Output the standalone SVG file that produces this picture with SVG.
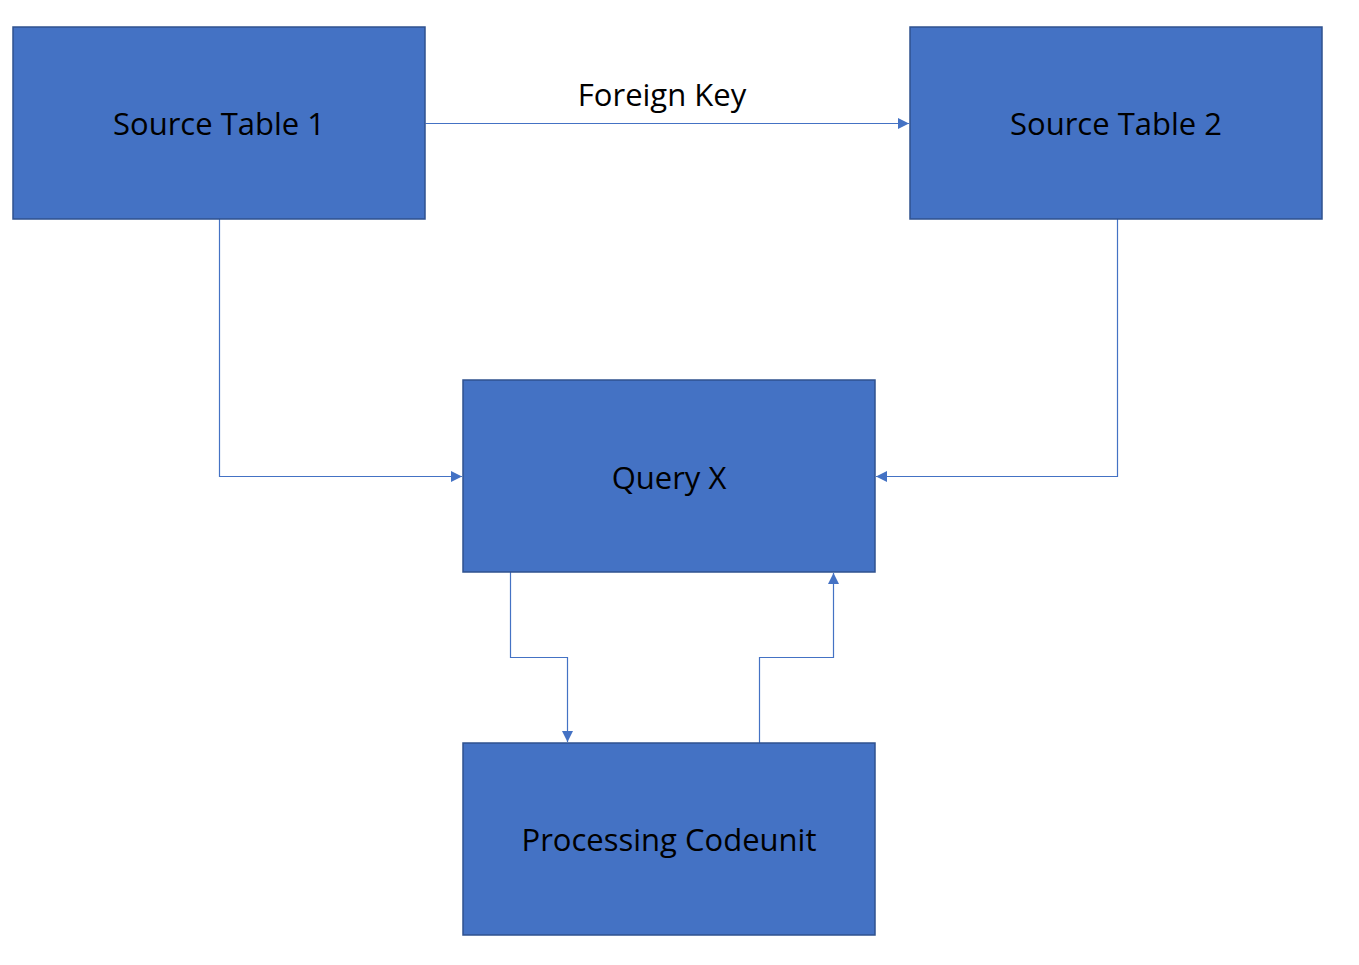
<svg xmlns="http://www.w3.org/2000/svg" width="1359" height="965" viewBox="0 0 1359 965">
<style>
.box{fill:#4472C4;stroke:#2F528F;stroke-width:1.5}
.lbl{font-family:"Open Sans","Noto Sans",sans-serif;font-size:31px;fill:#000;text-anchor:middle}
.conn{fill:none;stroke:#4472C4;stroke-width:1.2}
</style>
<defs>
<marker id="arr" markerWidth="11" markerHeight="11" refX="11" refY="5.5" orient="auto" markerUnits="userSpaceOnUse">
<path d="M0,0 L11,5.5 L0,11 Z" fill="#4472C4"/>
</marker>
</defs>
<rect width="1359" height="965" fill="#fff"/>
<g id="connectors">
<path class="conn" d="M425.5,123.5 H909" marker-end="url(#arr)"/>
<text class="lbl" x="662" y="106">Foreign Key</text>
<path class="conn" d="M219.5,219 V476.5 H462" marker-end="url(#arr)"/>
<path class="conn" d="M1117.5,219 V476.5 H876" marker-end="url(#arr)"/>
<path class="conn" d="M510.5,572 V657.5 H567.5 V742" marker-end="url(#arr)"/>
<path class="conn" d="M759.5,743 V657.5 H833.5 V573" marker-end="url(#arr)"/>
</g>
<g id="source-table-1">
<rect class="box" x="13" y="27" width="412" height="192"/>
<text class="lbl" x="219" y="135">Source Table 1</text>
</g>
<g id="source-table-2">
<rect class="box" x="910" y="27" width="412" height="192"/>
<text class="lbl" x="1116" y="135">Source Table 2</text>
</g>
<g id="query-x">
<rect class="box" x="463" y="380" width="412" height="192"/>
<text class="lbl" x="669" y="489">Query X</text>
</g>
<g id="processing-codeunit">
<rect class="box" x="463" y="743" width="412" height="192"/>
<text class="lbl" x="669" y="851">Processing Codeunit</text>
</g>
</svg>
